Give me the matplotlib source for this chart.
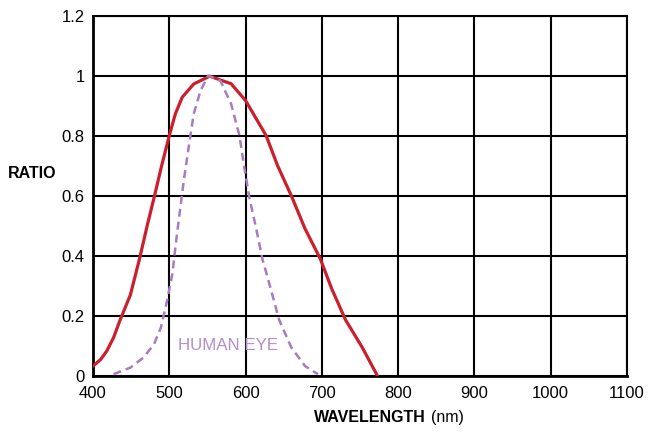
import numpy as np
import matplotlib
matplotlib.use("Agg")
import matplotlib.pyplot as plt

# Sensor response (red)
sensor_wl = [400, 410, 418, 427, 435, 449, 461, 471, 480, 490, 500, 508, 517, 532, 553,
             581, 600, 627, 642, 660, 678, 698, 713, 731, 753, 773]
sensor_ratio = [0.033, 0.055, 0.083, 0.128, 0.183, 0.27, 0.39, 0.50, 0.593, 0.70, 0.80, 0.873, 0.928, 0.972, 0.998,
                0.973, 0.917, 0.80, 0.70, 0.60, 0.49, 0.39, 0.29, 0.187, 0.095, 0.0]

# Human eye response (dashed purple)
eye_wl = [427, 449, 466, 480, 489, 497, 504, 509, 514, 519, 526, 532, 541, 551,
          567, 581, 592, 598, 605, 614, 622, 633, 644, 660, 678, 695]
eye_ratio = [0.006, 0.028, 0.061, 0.106, 0.161, 0.25, 0.339, 0.45, 0.55, 0.65, 0.772, 0.872, 0.95, 1.0,
             0.983, 0.906, 0.80, 0.70, 0.593, 0.49, 0.39, 0.29, 0.187, 0.095, 0.033, 0.006]

x_ticks = [400, 500, 600, 700, 800, 900, 1000, 1100]
y_ticks = [0, 0.2, 0.4, 0.6, 0.8, 1.0, 1.2]
y_labels = ["0", "0.2", "0.4", "0.6", "0.8", "1", "1.2"]

plt.rcParams['font.family'] = ['Liberation Sans', 'DejaVu Sans']

fig = plt.figure(figsize=(6.48, 4.33), dpi=100)
ax = fig.add_axes([0.1435, 0.1316, 0.8241, 0.8326])

ax.plot(sensor_wl, sensor_ratio, color='#cc1f2d', lw=2.3, solid_capstyle='round',
        solid_joinstyle='round', zorder=3)
ax.plot(eye_wl, eye_ratio, color='#a77cc0', lw=1.8, linestyle=(0, (3.2, 2.0)), zorder=3)

ax.text(511, 0.10, "HUMAN EYE", color='#b58ccb', fontsize=12.2, va='center', ha='left', zorder=4)

ax.set_xlim(400, 1100)
ax.set_ylim(0, 1.2)
ax.set_xticks(x_ticks)
ax.set_yticks(y_ticks)
ax.set_yticklabels(y_labels)
ax.tick_params(length=0, labelsize=12)
ax.tick_params(axis='x', pad=7)
ax.tick_params(axis='y', pad=6)
ax.grid(True, color='black', lw=1.5)
ax.set_axisbelow(True)
for s in ax.spines.values():
    s.set_color('black')
    s.set_linewidth(1.5)
ax.spines['left'].set_linewidth(2)
ax.spines['bottom'].set_linewidth(2)

fig.text(0.012, 0.60, "RATIO", fontsize=11.5, fontweight='bold', ha='left', va='center')
fig.text(0.485, 0.018, "WAVELENGTH", fontsize=11.5, fontweight='bold', ha='left', va='bottom')
fig.text(0.665, 0.018, "(nm)", fontsize=11.5, ha='left', va='bottom')

fig.savefig("out.png", dpi=100)
